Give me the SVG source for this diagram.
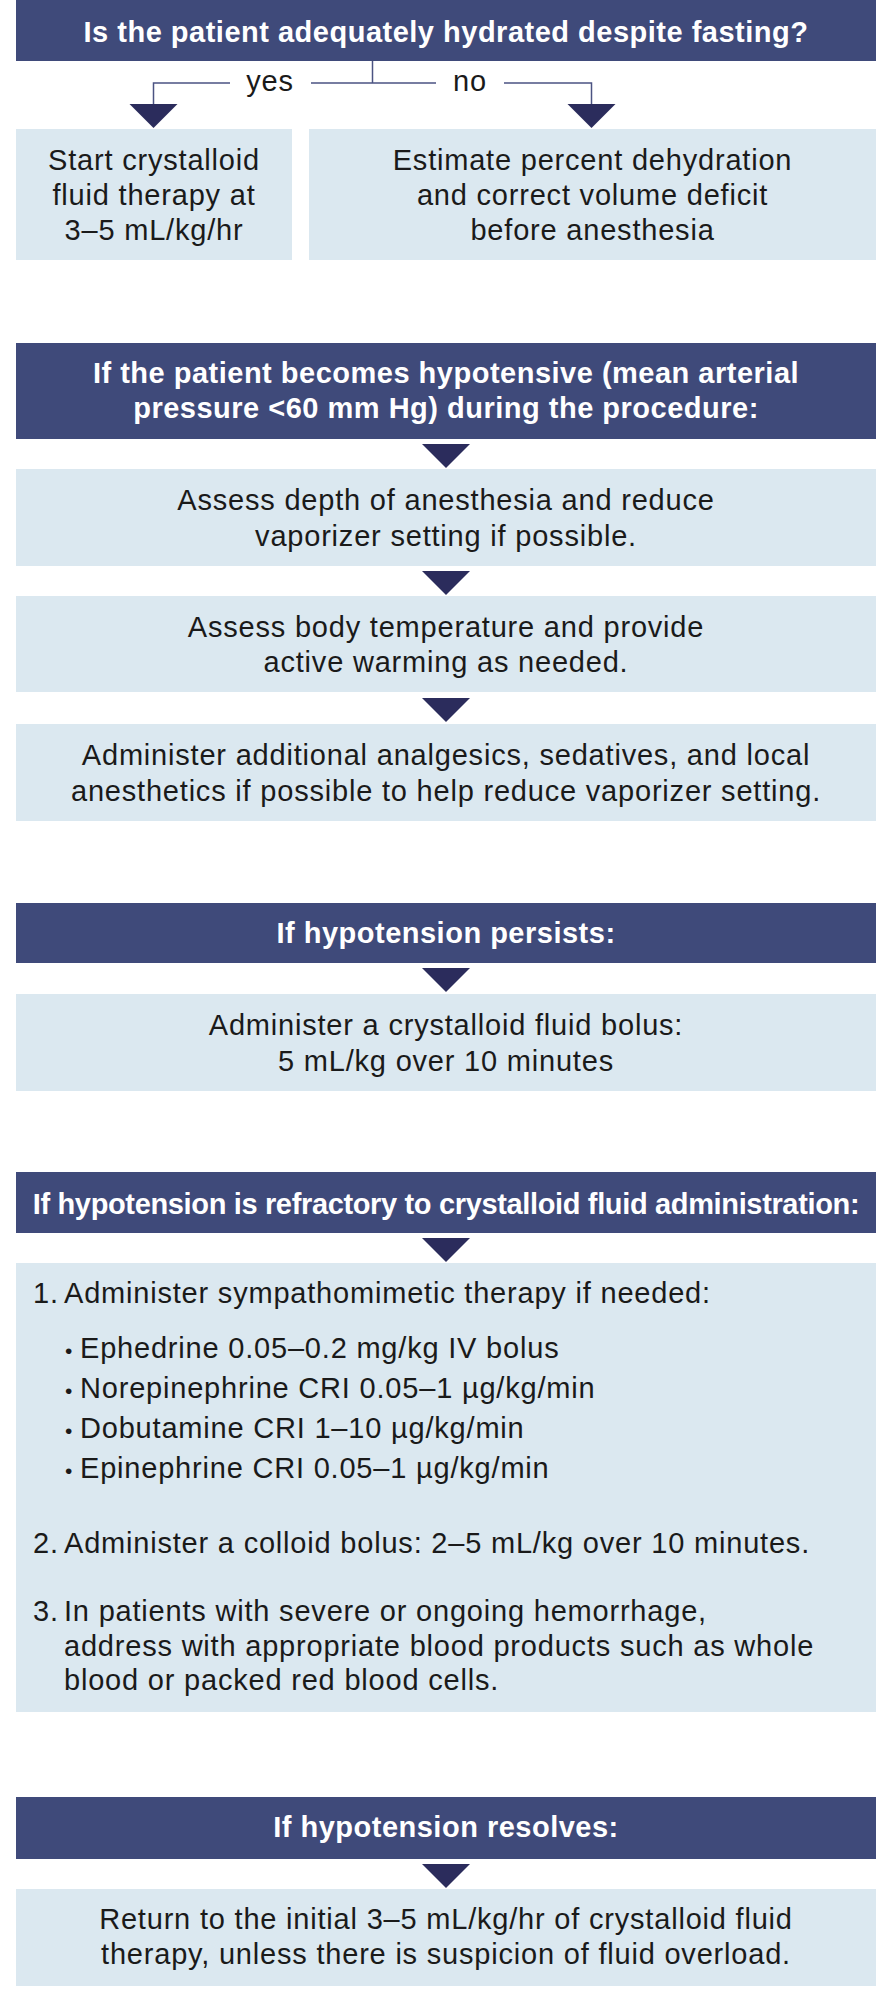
<svg xmlns="http://www.w3.org/2000/svg" xmlns:xlink="http://www.w3.org/1999/xlink" width="893" height="2000" viewBox="0 0 893 2000">
<style>
.hdr{fill:#3f4a7a}
.box{fill:#dbe8f0}
.ht{font-family:"Liberation Sans",Arial,sans-serif;font-weight:bold;font-size:29px;fill:#ffffff;text-anchor:middle;letter-spacing:0.5px}
.bt{font-family:"Liberation Sans",Arial,sans-serif;font-size:29px;fill:#1a1a1a;text-anchor:middle;letter-spacing:0.8px}
.lt{font-family:"Liberation Sans",Arial,sans-serif;font-size:29px;fill:#1a1a1a;letter-spacing:0.8px}
.bul{font-size:21px;letter-spacing:0}
.lbl{font-family:"Liberation Sans",Arial,sans-serif;font-size:29px;fill:#1a1a1a;text-anchor:middle;letter-spacing:0.8px}
.conn{stroke:#4b5382;stroke-width:1.5;fill:none}
.arr{fill:#2b2c5c}
</style>
<defs>
<path id="tri" d="M-24,0 L24,0 L0,24 Z"/>
</defs>
<rect width="893" height="2000" fill="#ffffff"/>

<g id="connectors">
<path class="conn" d="M372.5,61 V83 M153.5,104 V83 H230 M311,83 H436 M504,83 H591.5 V104"/>
<text class="lbl" x="270" y="91">yes</text>
<text class="lbl" x="470" y="91">no</text>
<use xlink:href="#tri" class="arr" x="153.5" y="104"/>
<use xlink:href="#tri" class="arr" x="591.5" y="104"/>
<use xlink:href="#tri" class="arr" x="446" y="444"/>
<use xlink:href="#tri" class="arr" x="446" y="571"/>
<use xlink:href="#tri" class="arr" x="446" y="698"/>
<use xlink:href="#tri" class="arr" x="446" y="968"/>
<use xlink:href="#tri" class="arr" x="446" y="1238"/>
<use xlink:href="#tri" class="arr" x="446" y="1864"/>
</g>

<g id="q-hydrated">
<rect class="hdr" x="16" y="0" width="860" height="61"/>
<text class="ht" x="446" y="42">Is the patient adequately hydrated despite fasting?</text>
</g>

<g id="yes-fluid">
<rect class="box" x="16" y="129" width="276" height="131"/>
<text class="bt" x="154" y="170">Start crystalloid</text>
<text class="bt" x="154" y="205">fluid therapy at</text>
<text class="bt" x="154" y="240">3–5 mL/kg/hr</text>
</g>

<g id="no-dehydration">
<rect class="box" x="309" y="129" width="567" height="131"/>
<text class="bt" x="592.5" y="170">Estimate percent dehydration</text>
<text class="bt" x="592.5" y="205">and correct volume deficit</text>
<text class="bt" x="592.5" y="240">before anesthesia</text>
</g>

<g id="h-hypotensive">
<rect class="hdr" x="16" y="343" width="860" height="96"/>
<text class="ht" x="446" y="383">If the patient becomes hypotensive (mean arterial</text>
<text class="ht" x="446" y="418">pressure &lt;60 mm Hg) during the procedure:</text>
</g>

<g id="assess-depth">
<rect class="box" x="16" y="469" width="860" height="97"/>
<text class="bt" x="446" y="510">Assess depth of anesthesia and reduce</text>
<text class="bt" x="446" y="545.5">vaporizer setting if possible.</text>
</g>

<g id="assess-temp">
<rect class="box" x="16" y="596" width="860" height="96"/>
<text class="bt" x="446" y="637">Assess body temperature and provide</text>
<text class="bt" x="446" y="672">active warming as needed.</text>
</g>

<g id="analgesics">
<rect class="box" x="16" y="724" width="860" height="97"/>
<text class="bt" x="446" y="765">Administer additional analgesics, sedatives, and local</text>
<text class="bt" x="446" y="801">anesthetics if possible to help reduce vaporizer setting.</text>
</g>

<g id="h-persists">
<rect class="hdr" x="16" y="903" width="860" height="60"/>
<text class="ht" x="446" y="943">If hypotension persists:</text>
</g>

<g id="bolus">
<rect class="box" x="16" y="994" width="860" height="97"/>
<text class="bt" x="446" y="1035">Administer a crystalloid fluid bolus:</text>
<text class="bt" x="446" y="1070.5">5 mL/kg over 10 minutes</text>
</g>

<g id="h-refractory">
<rect class="hdr" x="16" y="1172" width="860" height="61"/>
<text class="ht" x="446" y="1213.5" style="letter-spacing:-0.35px">If hypotension is refractory to crystalloid fluid administration:</text>
</g>

<g id="refractory-steps">
<rect class="box" x="16" y="1263" width="860" height="449"/>
<text class="lt" y="1303"><tspan x="33">1.</tspan><tspan x="64">Administer sympathomimetic therapy if needed:</tspan></text>
<text class="lt" y="1358"><tspan x="65" class="bul">•</tspan><tspan x="80">Ephedrine 0.05–0.2 mg/kg IV bolus</tspan></text>
<text class="lt" y="1398"><tspan x="65" class="bul">•</tspan><tspan x="80">Norepinephrine CRI 0.05–1 µg/kg/min</tspan></text>
<text class="lt" y="1437.5"><tspan x="65" class="bul">•</tspan><tspan x="80">Dobutamine CRI 1–10 µg/kg/min</tspan></text>
<text class="lt" y="1478"><tspan x="65" class="bul">•</tspan><tspan x="80">Epinephrine CRI 0.05–1 µg/kg/min</tspan></text>
<text class="lt" y="1553"><tspan x="33">2.</tspan><tspan x="64">Administer a colloid bolus: 2–5 mL/kg over 10 minutes.</tspan></text>
<text class="lt" y="1621"><tspan x="33">3.</tspan><tspan x="64">In patients with severe or ongoing hemorrhage,</tspan></text>
<text class="lt" x="64" y="1656">address with appropriate blood products such as whole</text>
<text class="lt" x="64" y="1690">blood or packed red blood cells.</text>
</g>

<g id="h-resolves">
<rect class="hdr" x="16" y="1797" width="860" height="62"/>
<text class="ht" x="446" y="1837">If hypotension resolves:</text>
</g>

<g id="return">
<rect class="box" x="16" y="1889" width="860" height="97"/>
<text class="bt" x="446" y="1928.5">Return to the initial 3–5 mL/kg/hr of crystalloid fluid</text>
<text class="bt" x="446" y="1963.5">therapy, unless there is suspicion of fluid overload.</text>
</g>
</svg>
